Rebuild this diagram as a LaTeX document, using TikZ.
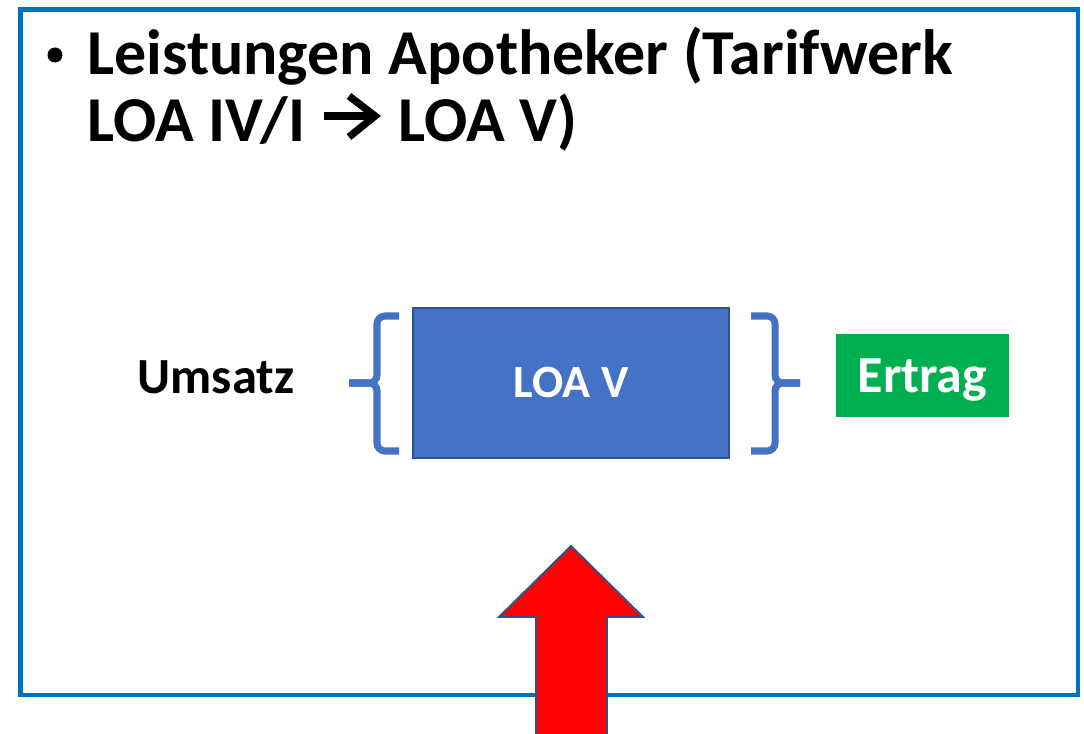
\documentclass[tikz,border=0pt]{standalone}
\usepackage{fontspec}
\setmainfont{Carlito}
\usetikzlibrary{positioning}

\definecolor{framecol}{HTML}{0070C0}
\definecolor{loafill}{HTML}{4472C4}
\definecolor{loaedge}{HTML}{2F528F}
\definecolor{ertragcol}{HTML}{00B050}

\tikzset{
  bigtext/.style={font=\bfseries\fontsize{36.4}{38}\selectfont},
  midtext/.style={font=\bfseries\fontsize{28.8}{32}\selectfont},
  brace/.style={draw=loafill, line width=4pt, rounded corners=4.5pt}
}

\begin{document}
\begin{tikzpicture}[x=0.02cm,y=-0.02cm, every node/.style={inner sep=0pt}]
  \clip (0,0) rectangle (1084,733);
  % frame
  \draw[framecol, line width=2.8pt] (20.5,9.5) rectangle (1078,695);
  % heading
  \fill (55,55) circle (7.5);
  \node[bigtext, anchor=base west] (head1) at (87,75) {Leistungen Apotheker (Tarifwerk};
  \node[bigtext, anchor=base west] (head2) at (87,142) {LOA IV/I};
  \node[bigtext, anchor=base west] (head3) at (398,142) {LOA V)};
  \draw[line width=4.2pt] (324,116) -- (372,116);
  \draw[line width=4.2pt] (349,96) -- (375,116) -- (349,137);
  % box in the middle
  \node[draw=loaedge, fill=loafill, line width=1.1pt, minimum width=6.32cm,
        minimum height=3cm, text=white, font=\bfseries\fontsize{26.3}{28}\selectfont]
        (loa) at (571,383) {LOA V};
  \node[midtext] (umsatz) at (216,377) {Umsatz};
  \node[midtext, fill=ertragcol, text=white, text depth=0pt, minimum width=3.46cm,
        minimum height=1.66cm] (ertrag) at (922.5,375.5) {\fontsize{29.6}{32}\selectfont Ertrag};
  % braces
  \draw[brace] (399,316) -- (377,316) -- (377,383) -- (349,383);
  \draw[brace] (399,451) -- (377,451) -- (377,383) -- (349,383);
  \draw[brace] (751,316) -- (775,316) -- (775,383) -- (800,383);
  \draw[brace] (751,451) -- (775,451) -- (775,383) -- (800,383);
  % red arrow
  \filldraw[fill=red, draw=loaedge, line width=1.1pt]
    (571,546) -- (643,617) -- (607,617) -- (607,745) -- (536,745)
    -- (536,617) -- (499,617) -- cycle;
\end{tikzpicture}
\end{document}
